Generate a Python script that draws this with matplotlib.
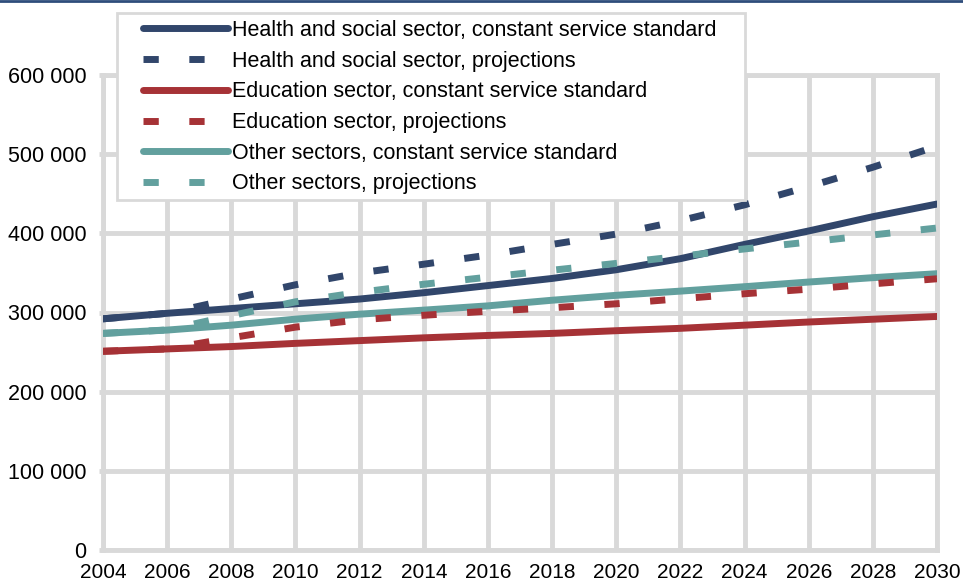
import matplotlib.pyplot as plt
from matplotlib.lines import Line2D
from matplotlib.patches import Rectangle
from matplotlib.ticker import FuncFormatter

# employment by sector, biennial values
years = [2004, 2006, 2008, 2010, 2012, 2014, 2016, 2018, 2020, 2022, 2024, 2026, 2028, 2030]
health_const = [292000, 299000, 305000, 311000, 317000, 325000, 334000, 343000, 354000,
                368000, 386000, 403000, 421000, 437000]
health_proj = [292000, 299000, 317000, 335000, 350000, 361000, 372500, 386000, 399000,
               416000, 436000, 459000, 483500, 510000]
edu_const = [251000, 254000, 257000, 261000, 264500, 268000, 271000, 273600, 277000,
             280000, 284000, 288000, 291500, 295000]
edu_proj = [251000, 254000, 268000, 281500, 290800, 296500, 301600, 306000, 311000,
            317400, 323700, 329500, 336200, 342600]
other_const = [273600, 277800, 284000, 291600, 297900, 303000, 308400, 315500, 321700,
               327000, 332600, 338500, 344000, 349000]
other_proj = [273600, 278000, 296000, 313500, 325500, 335700, 344600, 353400, 362000,
              371000, 380300, 389000, 398000, 406700]

labels = [
    'Health and social sector, constant service standard',
    'Health and social sector, projections',
    'Education sector, constant service standard',
    'Education sector, projections',
    'Other sectors, constant service standard',
    'Other sectors, projections',
]

NAVY = '#31466b'
RED = '#a63236'
TEAL = '#62a09e'
GRID = '#d9d9d9'
LW = 5.0
DASH = (2.2, 4.4)
FS = 15.5

plt.rcParams['font.family'] = ['Liberation Sans', 'DejaVu Sans']

W, H = 963, 587
fig = plt.figure(figsize=(W / 100, H / 100), dpi=100)
ax = fig.add_axes([103 / W, 1 - 550 / H, 834 / W, 475 / H])

series = [
    (health_const, NAVY, False),
    (health_proj, NAVY, True),
    (edu_const, RED, False),
    (edu_proj, RED, True),
    (other_const, TEAL, False),
    (other_proj, TEAL, True),
]
# solid lines first, dashed on top
for vals, color, dashed in series:
    if dashed:
        ax.plot(years, vals, color=color, lw=LW, dashes=DASH,
                dash_capstyle='butt', zorder=4)
    else:
        ax.plot(years, vals, color=color, lw=LW, solid_capstyle='round', zorder=3)

ax.set_xlim(2004, 2030)
ax.set_ylim(0, 600000)
ax.set_xticks(range(2004, 2031, 2))
ax.set_yticks(range(0, 600001, 100000))
ax.yaxis.set_major_formatter(FuncFormatter(lambda v, p: f'{int(v):,}'.replace(',', ' ')))
ax.grid(True, color=GRID, lw=3.5, zorder=0)
ax.set_axisbelow(True)
for s in ax.spines.values():
    s.set_color(GRID)
    s.set_linewidth(3.5)
ax.tick_params(axis='y', length=3, width=3.5, color=GRID, labelsize=FS, pad=9)
# the original crops the year labels at the bottom edge; keep them just inside
ax.tick_params(axis='x', length=0, labelsize=15, pad=9.1)

# legend: frame drawn separately so the padding matches the original
frame = Rectangle((117 / W, 1 - 200 / H), (745 - 117) / W, (200 - 13) / H,
                  transform=fig.transFigure, facecolor='white', edgecolor=GRID,
                  lw=2, zorder=5)
fig.add_artist(frame)

handles = []
for vals, color, dashed in series:
    if dashed:
        handles.append(Line2D([], [], color=color, lw=LW, dashes=DASH, dash_capstyle='butt'))
    else:
        handles.append(Line2D([], [], color=color, lw=LW, solid_capstyle='round'))
leg = fig.legend(handles, labels, loc='upper left', bbox_to_anchor=(143 / W, 1 - 20 / H),
                 fontsize=FS, handlelength=3.95, handletextpad=0.19, labelspacing=0.45,
                 borderaxespad=0, borderpad=0, frameon=False)
leg.set_zorder(6)

# thin blue rule across the top
fig.add_artist(Line2D([0, 1], [0.998, 0.998], color='#2e4d7b', lw=2, transform=fig.transFigure))

fig.savefig('out.png', dpi=100)
